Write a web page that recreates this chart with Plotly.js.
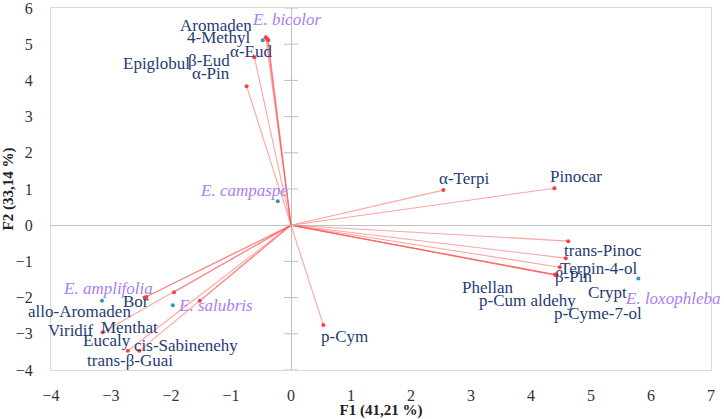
<!DOCTYPE html>
<html>
<head>
<meta charset="utf-8">
<script src="https://cdn.plot.ly/plotly-3.0.1.min.js"></script>
<style>html,body{margin:0;padding:0;background:#fff;}#chart{width:724px;height:419px;}</style>
</head>
<body>
<div id="chart"></div>
<script>
// ---- Data ----
const varNames = ["Aromaden","4-Methyl","β-Eud","Epiglobul","α-Eud","α-Pin",
  "α-Terpi","Pinocar","trans-Pinoc","Terpin-4-ol","β-Pin","Phellan","p-Cum aldehy","Crypt","p-Cyme-7-ol",
  "p-Cym","Bor","allo-Aromaden","Menthat","Eucaly","Viridif","trans-β-Guai","cis-Sabinenehy"];
const varF1 = [-0.42,-0.38,-0.40,-0.39,-0.61,-0.74,
  2.54,4.39,4.62,4.58,4.48,4.42,4.40,4.43,4.41,
  0.54,-2.41,-2.44,-1.95,-1.52,-3.14,-2.72,-2.53];
const varF2 = [5.19,5.11,5.15,5.13,4.64,3.84,
  0.97,1.02,-0.44,-0.91,-1.16,-1.38,-1.36,-1.39,-1.37,
  -2.76,-1.98,-2.00,-1.85,-2.09,-2.96,-3.47,-3.47];

const obsNames = ["E. bicolor","E. campaspe","E. loxophleba","E. amplifolia","E. salubris"];
const obsF1 = [-0.47,-0.22,5.79,-3.15,-1.97];
const obsF2 = [5.11,0.66,-1.47,-2.09,-2.21];

const xTicks = [-4,-3,-2,-1,0,1,2,3,4,5,6,7];
const yTicks = [-4,-3,-2,-1,0,1,2,3,4,5,6];

// ---- Label placement (pixel shifts, style only) ----
const varShift = [[-50,12],[-49,3],[-58,-22],[-111,-24],[-3,6],[-36,13],
  [21,12],[22,12],[35,-9],[33,-10],[14,-9],[-69,-12],[-28,-26],[51,-17],[42,-39],
  [21,-11],[-10,-5],[-65,-14],[-45,-35],[-93,-40],[-32,2],[2,-10],[47,5]];
const obsShift = [[24,21],[-34,11],[34,-20],[6,12],[43,0]];

const serif = "Liberation Serif, Times New Roman, serif";
const varColor = "#1F3C74";
const obsColor = "#A880F2";

// vector lines from origin
const lx = [], ly = [];
varF1.forEach((v,i) => { lx.push(0, v, null); ly.push(0, varF2[i], null); });

const traces = [
  {x: lx, y: ly, mode: "lines", type: "scatter", hoverinfo: "skip",
   line: {color: "rgba(255,90,90,0.55)", width: 1.1}},
  {x: varF1, y: varF2, mode: "markers", type: "scatter", text: varNames,
   marker: {color: "#FF3B3B", size: 4}},
  {x: obsF1, y: obsF2, mode: "markers", type: "scatter", text: obsNames,
   marker: {color: "#2A98B6", size: 4}},
  {x: yTicks.map(() => 0), y: yTicks, mode: "markers", type: "scatter", hoverinfo: "skip",
   marker: {symbol: "line-ew", size: 10, line: {color: "#BFBFBF", width: 1}}}
];

const annotations = [];
varNames.forEach((n,i) => annotations.push({
  x: varF1[i], y: varF2[i], text: n, showarrow: false,
  xshift: varShift[i][0], yshift: varShift[i][1],
  font: {family: serif, size: 17, color: varColor}
}));
obsNames.forEach((n,i) => annotations.push({
  x: obsF1[i], y: obsF2[i], text: "<i>" + n + "</i>", showarrow: false,
  xshift: obsShift[i][0], yshift: obsShift[i][1],
  font: {family: serif, size: 17, color: obsColor}
}));

const axisCommon = {
  showgrid: false, zeroline: true, zerolinecolor: "#BFBFBF", zerolinewidth: 1,
  showline: true, linecolor: "#D9D9D9", linewidth: 1, mirror: true,
  ticks: "", tickfont: {family: serif, size: 16, color: "#333333"},
  ticklabeloverflow: "allow", fixedrange: true
};

const layout = {
  width: 724, height: 419,
  margin: {l: 51, r: 13, t: 8, b: 49},
  paper_bgcolor: "#ffffff", plot_bgcolor: "#ffffff",
  showlegend: false,
  xaxis: Object.assign({}, axisCommon, {
    range: [-4, 7], tickvals: xTicks, ticklabelstandoff: 11,
    title: {text: "<b>F1 (41,21 %)</b>", font: {family: serif, size: 15, color: "#222"}, standoff: 0}
  }),
  yaxis: Object.assign({}, axisCommon, {
    range: [-4, 6], tickvals: yTicks, ticklabelstandoff: 14,
    title: {text: "<b>F2 (33,14 %)</b>", font: {family: serif, size: 15, color: "#222"}, standoff: 3}
  }),
  annotations: annotations
};

Plotly.newPlot("chart", traces, layout, {displayModeBar: false, staticPlot: true});
</script>
</body>
</html>
